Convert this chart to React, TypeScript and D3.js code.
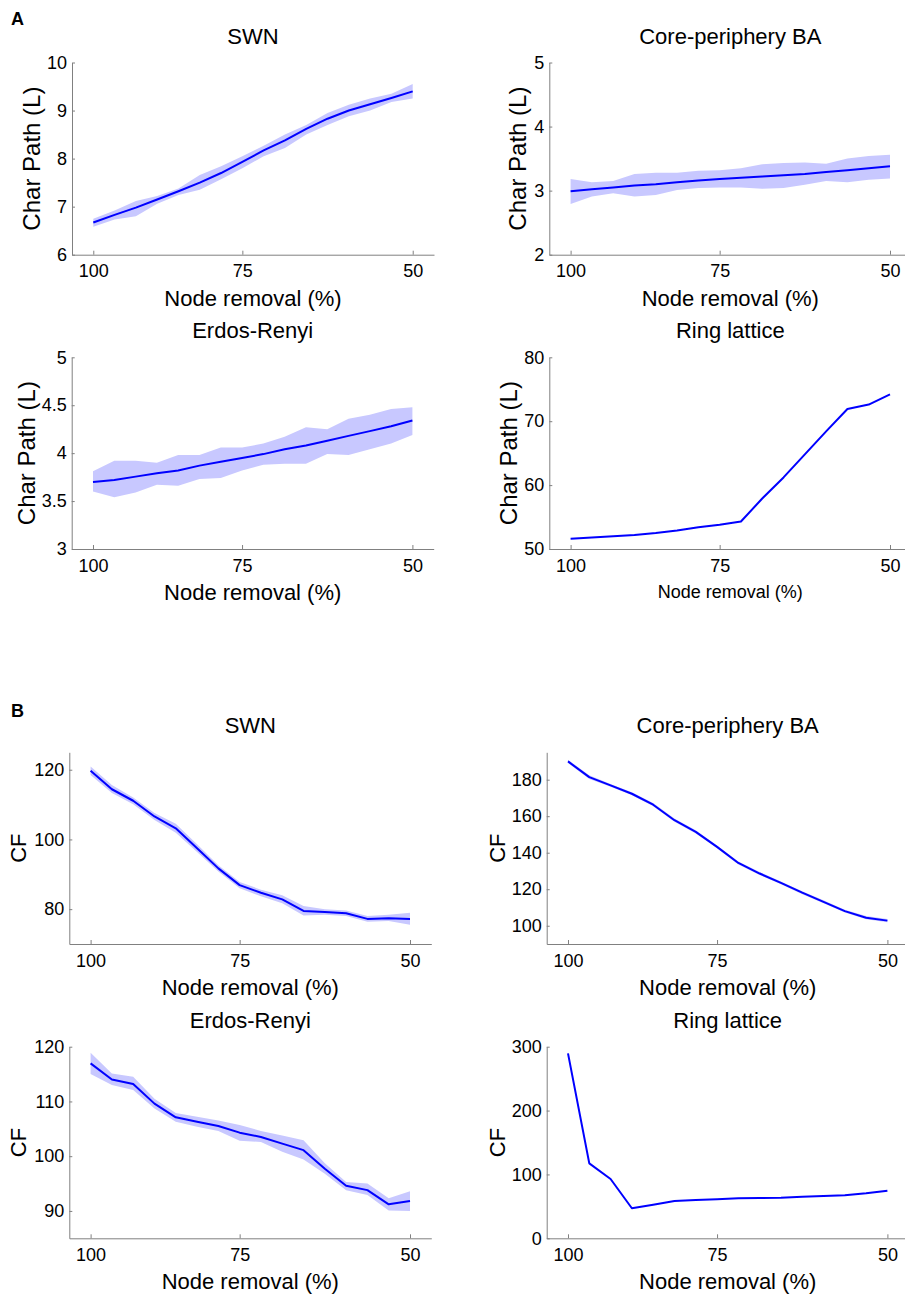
import React, { useRef, useEffect } from "react";
import * as d3 from "d3";

// removal steps 0..15 (100% -> 50% of nodes), ticks shown at 100 / 75 / 50
const removalSteps = [0, 1, 2, 3, 4, 5, 6, 7, 8, 9, 10, 11, 12, 13, 14, 15];
const xTickSteps = [0, 7, 15];
const xTickLabels = ["100", "75", "50"];

// A: characteristic path length
const pathSwnMean = [6.67, 6.83, 6.98, 7.15, 7.32, 7.5, 7.7, 7.93, 8.17, 8.38, 8.62, 8.83, 9.0, 9.13, 9.26, 9.4];
const pathSwnUpper = [6.75, 6.92, 7.12, 7.22, 7.38, 7.66, 7.84, 8.05, 8.27, 8.5, 8.7, 8.95, 9.12, 9.25, 9.35, 9.55];
const pathSwnLower = [6.58, 6.73, 6.8, 7.06, 7.24, 7.35, 7.57, 7.8, 8.05, 8.22, 8.5, 8.7, 8.88, 9.0, 9.18, 9.25];

const pathCoreMean = [2.99, 3.02, 3.05, 3.08, 3.1, 3.13, 3.16, 3.18, 3.2, 3.22, 3.24, 3.26, 3.29, 3.32, 3.35, 3.38];
const pathCoreUpper = [3.18, 3.13, 3.15, 3.26, 3.28, 3.28, 3.31, 3.32, 3.35, 3.41, 3.43, 3.44, 3.42, 3.5, 3.54, 3.56];
const pathCoreLower = [2.79, 2.91, 2.96, 2.91, 2.93, 3.01, 3.04, 3.05, 3.05, 3.03, 3.04, 3.09, 3.15, 3.13, 3.17, 3.19];

const pathErMean = [3.7, 3.72, 3.755, 3.79, 3.82, 3.87, 3.91, 3.95, 3.99, 4.04, 4.08, 4.13, 4.18, 4.23, 4.28, 4.34];
const pathErUpper = [3.81, 3.92, 3.92, 3.9, 3.98, 3.98, 4.06, 4.06, 4.1, 4.17, 4.27, 4.25, 4.36, 4.4, 4.46, 4.48];
const pathErLower = [3.6, 3.54, 3.59, 3.67, 3.66, 3.73, 3.74, 3.82, 3.88, 3.89, 3.89, 3.99, 3.98, 4.04, 4.1, 4.19];

const pathRingMean = [51.6, 51.8, 52.0, 52.2, 52.5, 52.9, 53.4, 53.8, 54.3, 57.9, 61.2, 64.8, 68.4, 71.9, 72.6, 74.2];

// B: CF
const cfSwnMean = [119.7, 114.4, 111.1, 106.6, 103.2, 97.5, 91.7, 86.9, 84.7, 82.8, 79.5, 79.2, 78.8, 77.2, 77.4, 77.2];
const cfSwnUpper = [120.9, 115.6, 112.0, 107.6, 104.5, 98.6, 92.6, 87.8, 85.6, 84.0, 80.9, 80.0, 79.6, 78.0, 78.4, 79.0];
const cfSwnLower = [118.5, 113.3, 110.1, 105.6, 101.9, 96.4, 90.8, 86.0, 83.7, 81.7, 78.2, 78.4, 78.0, 76.4, 76.6, 75.5];

const cfCoreMean = [190.0, 181.4, 176.9, 172.3, 166.3, 157.8, 151.4, 143.2, 134.4, 128.6, 123.5, 118.1, 113.1, 108.0, 104.4, 102.8];
const cfCoreUpper = [190.9, 182.4, 177.7, 173.1, 167.2, 158.7, 152.3, 144.0, 135.2, 129.4, 124.3, 118.9, 113.9, 108.8, 105.3, 103.7];
const cfCoreLower = [189.1, 180.4, 176.1, 171.5, 165.4, 156.9, 150.5, 142.4, 133.6, 127.8, 122.7, 117.3, 112.3, 107.2, 103.5, 101.9];

const cfErMean = [116.95, 114.0, 113.2, 109.6, 107.1, 106.3, 105.5, 104.3, 103.5, 102.3, 101.1, 97.7, 94.6, 93.8, 91.2, 91.8];
const cfErUpper = [118.9, 115.1, 114.5, 110.5, 107.9, 107.2, 106.5, 105.7, 104.6, 103.8, 102.9, 98.7, 95.3, 95.0, 92.3, 93.6];
const cfErLower = [115.0, 113.0, 112.1, 108.7, 106.3, 105.4, 104.6, 102.8, 102.6, 100.8, 99.4, 96.8, 93.8, 92.9, 90.1, 90.0];

const cfRingMean = [289.5, 117.4, 92.9, 47.0, 52.7, 58.4, 60.0, 61.0, 62.6, 63.1, 63.6, 65.2, 66.2, 67.3, 70.4, 74.6];

const FONT = '"Liberation Sans", Arial, Helvetica, sans-serif';
const AXIS_W = 362;
const AXIS_COLOR = "#808080";
const LINE_COLOR = "#0000ff";
const BAND_COLOR = "rgb(200,200,255)";

const panels = [
  { title: "SWN", ylabel: "Char Path (L)", mean: pathSwnMean, upper: pathSwnUpper, lower: pathSwnLower,
    yDomain: [6, 10], yTicks: [6, 7, 8, 9, 10], left: 72, top: 62.5, bottom: 254.7, ylabelX: 32, ylabelSize: 24, xlabelSize: 22, xlabelGap: 51 },
  { title: "Core-periphery BA", ylabel: "Char Path (L)", mean: pathCoreMean, upper: pathCoreUpper, lower: pathCoreLower,
    yDomain: [2, 5], yTicks: [2, 3, 4, 5], left: 549.3, top: 62.5, bottom: 254.7, ylabelX: 518, ylabelSize: 24, xlabelSize: 22, xlabelGap: 51 },
  { title: "Erdos-Renyi", ylabel: "Char Path (L)", mean: pathErMean, upper: pathErUpper, lower: pathErLower,
    yDomain: [3, 5], yTicks: [3, 3.5, 4, 4.5, 5], left: 71.7, top: 357.3, bottom: 549, ylabelX: 27, ylabelSize: 24, xlabelSize: 22, xlabelGap: 51 },
  { title: "Ring lattice", ylabel: "Char Path (L)", mean: pathRingMean, upper: null, lower: null,
    yDomain: [50, 80], yTicks: [50, 60, 70, 80], left: 549.3, top: 357.3, bottom: 549, ylabelX: 509, ylabelSize: 24, xlabelSize: 18, xlabelGap: 49 },
  { title: "SWN", ylabel: "CF", mean: cfSwnMean, upper: cfSwnUpper, lower: cfSwnLower,
    yDomain: [70, 125], yTicks: [80, 100, 120], left: 69.3, top: 752.3, bottom: 944, ylabelX: 18, ylabelSize: 22, xlabelSize: 22, xlabelGap: 51 },
  { title: "Core-periphery BA", ylabel: "CF", mean: cfCoreMean, upper: cfCoreUpper, lower: cfCoreLower,
    yDomain: [90, 195], yTicks: [100, 120, 140, 160, 180], left: 546.7, top: 752.3, bottom: 944, ylabelX: 497, ylabelSize: 22, xlabelSize: 22, xlabelGap: 51 },
  { title: "Erdos-Renyi", ylabel: "CF", mean: cfErMean, upper: cfErUpper, lower: cfErLower,
    yDomain: [85, 120], yTicks: [90, 100, 110, 120], left: 69.3, top: 1046.7, bottom: 1238.3, ylabelX: 18, ylabelSize: 22, xlabelSize: 22, xlabelGap: 51 },
  { title: "Ring lattice", ylabel: "CF", mean: cfRingMean, upper: null, lower: null,
    yDomain: [0, 300], yTicks: [0, 100, 200, 300], left: 546.7, top: 1046.7, bottom: 1238.3, ylabelX: 497, ylabelSize: 22, xlabelSize: 22, xlabelGap: 51 },
];

export default function App() {
  const svgRef = useRef<SVGSVGElement>(null);

  useEffect(() => {
    const svg = d3.select(svgRef.current);
    svg.selectAll("*").remove();

    // panel letters
    svg.append("text").attr("x", 11).attr("y", 25).text("A")
      .style("font-family", FONT).style("font-size", "18px").style("font-weight", "bold");
    svg.append("text").attr("x", 11).attr("y", 717).text("B")
      .style("font-family", FONT).style("font-size", "18px").style("font-weight", "bold");

    panels.forEach((p) => {
      const x = d3.scaleLinear().domain([-1, 16]).range([p.left, p.left + AXIS_W]);
      const y = d3.scaleLinear().domain(p.yDomain).range([p.bottom, p.top]);
      const g = svg.append("g");

      if (p.upper && p.lower) {
        const lower = p.lower;
        const area = d3.area<number>()
          .x((_, i) => x(removalSteps[i]))
          .y0((_, i) => y(lower[i]))
          .y1((d) => y(d));
        g.append("path").datum(p.upper).attr("d", area).attr("fill", BAND_COLOR);
      }

      const line = d3.line<number>()
        .x((_, i) => x(removalSteps[i]))
        .y((d) => y(d));
      g.append("path").datum(p.mean).attr("d", line)
        .attr("fill", "none").attr("stroke", LINE_COLOR).attr("stroke-width", 2)
        .attr("stroke-linejoin", "round");

      // axes (ticks point inward like the original)
      const xAxis = g.append("g")
        .attr("transform", `translate(0,${p.bottom})`)
        .call(d3.axisBottom(x).tickValues(xTickSteps)
          .tickFormat((_, i) => xTickLabels[i])
          .tickSizeInner(-4).tickSizeOuter(0).tickPadding(10));

      const yAxis = g.append("g")
        .attr("transform", `translate(${p.left},0)`)
        .call(d3.axisLeft(y).tickValues(p.yTicks)
          .tickFormat(d3.format("~g"))
          .tickSizeInner(-3).tickSizeOuter(0).tickPadding(5));

      [xAxis, yAxis].forEach((ax) => {
        ax.select(".domain").attr("stroke", AXIS_COLOR);
        ax.selectAll(".tick line").attr("stroke", AXIS_COLOR);
        ax.selectAll(".tick text")
          .attr("fill", "#000")
          .style("font-family", FONT)
          .style("font-size", "18px");
      });

      const cx = p.left + AXIS_W / 2;
      g.append("text")
        .attr("x", cx).attr("y", p.top - 19)
        .attr("text-anchor", "middle")
        .style("font-family", FONT).style("font-size", "22px")
        .text(p.title);

      g.append("text")
        .attr("x", cx).attr("y", p.bottom + p.xlabelGap)
        .attr("text-anchor", "middle")
        .style("font-family", FONT).style("font-size", `${p.xlabelSize}px`)
        .text("Node removal (%)");

      const cy = (p.top + p.bottom) / 2;
      g.append("text")
        .attr("transform", `translate(${p.ylabelX},${cy}) rotate(-90)`)
        .attr("text-anchor", "middle")
        .attr("dy", "0.35em")
        .style("font-family", FONT).style("font-size", `${p.ylabelSize}px`)
        .text(p.ylabel);
    });
  }, []);

  return (
    <svg
      ref={svgRef}
      width={905}
      height={1296}
      style={{ position: "absolute", left: 0, top: 0, background: "#fff" }}
    ></svg>
  );
}
